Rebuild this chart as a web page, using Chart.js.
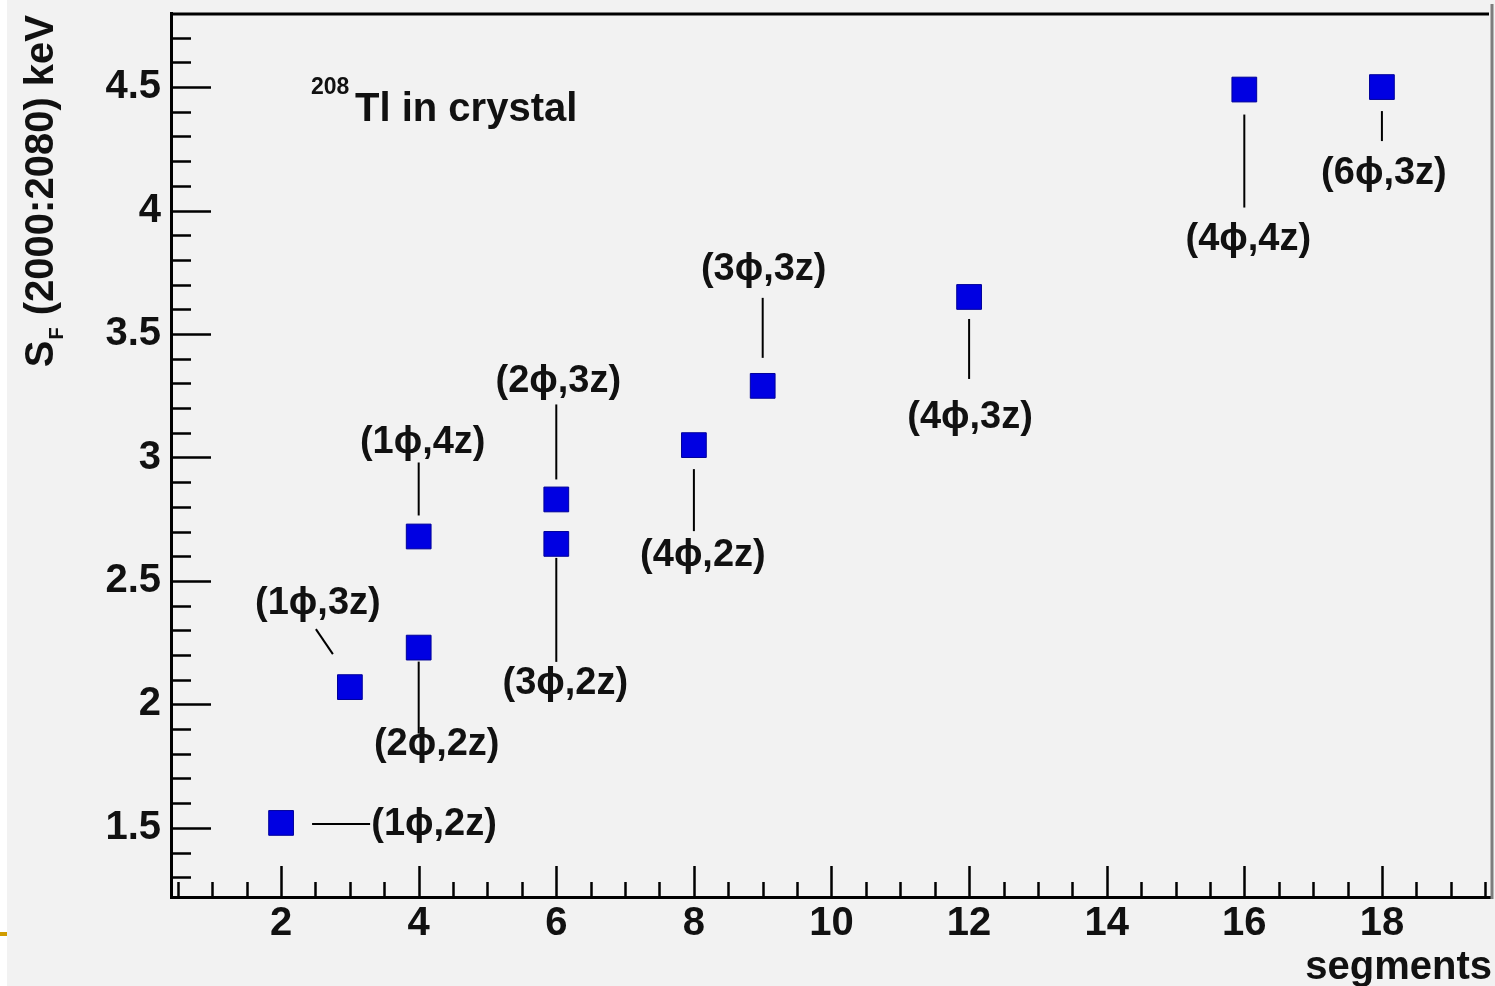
<!DOCTYPE html>
<html>
<head>
<meta charset="utf-8">
<title>Tl-208 in crystal: S_F vs segments</title>
<script src="https://cdn.jsdelivr.net/npm/chart.js@4/dist/chart.umd.min.js"></script>
<style>
  html, body { margin: 0; padding: 0; background: #f2f2f2; }
  #wrap { position: relative; width: 1495px; height: 986px; }
  canvas { display: block; }
</style>
</head>
<body>
<div id="wrap"><canvas id="chart" width="1495" height="986"></canvas></div>
<script>
// Segmentation schemes: number of segments and the resulting S_F value
const segments = [2, 3, 4, 4, 6, 6, 8, 9, 12, 16, 18];
const sfValues = [1.52, 2.07, 2.23, 2.68, 2.65, 2.83, 3.05, 3.29, 3.65, 4.49, 4.50];
const schemeLabels = ['(1ϕ,2z)', '(1ϕ,3z)', '(2ϕ,2z)', '(1ϕ,4z)', '(3ϕ,2z)', '(2ϕ,3z)',
                      '(4ϕ,2z)', '(3ϕ,3z)', '(4ϕ,3z)', '(4ϕ,4z)', '(6ϕ,3z)'];

// Axis ticks
const xTickValues = [2, 4, 6, 8, 10, 12, 14, 16, 18];
const xTickLabels = ['2', '4', '6', '8', '10', '12', '14', '16', '18'];
const yTickValues = [1.5, 2, 2.5, 3, 3.5, 4, 4.5];
const yTickLabels = ['1.5', '2', '2.5', '3', '3.5', '4', '4.5'];

// Axis ranges
const xRange = [0.4, 19.6];
const yRange = [1.22, 4.8];

// Text
const plotTitleSup = '208';
const plotTitleMain = 'Tl in crystal';
const yTitleMain = 'S';
const yTitleSub = 'F';
const yTitleRest = ' (2000:2080) keV';
const xTitle = 'segments';

// Pixel offsets (relative to each marker) for connector line and label centre:
// [lineX1, lineY1, lineX2, lineY2, textX, textY]
const labelLayout = [
  [31, 1, 89, 1, 153, 2],
  [-17, -33, -34, -58, -32, -84],
  [0, 14, 0, 86, 18, 97],
  [0, -21, 0, -74, 4, -94],
  [0, 14, 0, 118, 9, 140],
  [0, -20, 0, -95, 2, -118],
  [0, 24, 0, 86, 9, 110],
  [0, -28, 0, -88, 1, -116],
  [0, 22, 0, 82, 1, 121],
  [0, 25, 0, 118, 4, 150],
  [0, 24, 0, 54, 2, 86]
];

const FONT = '"Liberation Sans", Arial, Helvetica, sans-serif';
const points = segments.map((x, i) => ({ x: x, y: sfValues[i] }));

const frameDecor = {
  id: 'frameDecor',
  beforeDraw(chart) {
    const ctx = chart.ctx;
    ctx.save();
    ctx.fillStyle = '#f2f2f2';
    ctx.fillRect(0, 0, chart.width, chart.height);
    ctx.fillStyle = '#ffffff';
    ctx.fillRect(0, 0, 7, chart.height);
    ctx.fillStyle = '#d09c00';
    ctx.fillRect(0, 932, 7, 4);
    ctx.restore();
  },
  afterDatasetsDraw(chart) {
    const ctx = chart.ctx;
    const a = chart.chartArea;
    const xs = chart.scales.x, ys = chart.scales.y;
    ctx.save();
    // frame: top line and right edge
    ctx.strokeStyle = '#000';
    ctx.lineWidth = 3;
    ctx.beginPath();
    ctx.moveTo(a.left, a.top + 1);
    ctx.lineTo(a.right - 3, a.top + 1);
    ctx.stroke();
    ctx.strokeStyle = '#7d7d7d';
    ctx.lineWidth = 3;
    ctx.beginPath();
    ctx.moveTo(a.right, 4);
    ctx.lineTo(a.right, a.bottom + 2);
    ctx.stroke();

    // inside ticks
    ctx.strokeStyle = '#000';
    ctx.lineWidth = 2.5;
    ctx.beginPath();
    for (let v = 0.5; v <= xRange[1]; v += 0.5) {
      const px = Math.round(xs.getPixelForValue(v)) + 0.5;
      const major = xTickValues.includes(v);
      ctx.moveTo(px, a.bottom);
      ctx.lineTo(px, a.bottom - (major ? 31 : 15));
    }
    for (let k = 13; k <= 47; k++) {
      const v = k / 10;
      const py = Math.round(ys.getPixelForValue(v)) + 0.5;
      const major = yTickValues.some(t => Math.abs(t - v) < 1e-9);
      ctx.moveTo(a.left, py);
      ctx.lineTo(a.left + (major ? 40 : 20), py);
    }
    ctx.stroke();
    ctx.restore();
  },
  afterDraw(chart) {
    const ctx = chart.ctx;
    const xs = chart.scales.x, ys = chart.scales.y;
    ctx.save();
    // scheme labels with connector lines
    ctx.strokeStyle = '#000';
    ctx.lineWidth = 2;
    ctx.fillStyle = '#111';
    ctx.font = 'bold 38px ' + FONT;
    ctx.textAlign = 'center';
    ctx.textBaseline = 'middle';
    points.forEach((p, i) => {
      const px = xs.getPixelForValue(p.x);
      const py = ys.getPixelForValue(p.y);
      const L = labelLayout[i];
      ctx.beginPath();
      ctx.moveTo(px + L[0], py + L[1]);
      ctx.lineTo(px + L[2], py + L[3]);
      ctx.stroke();
      ctx.fillText(schemeLabels[i], px + L[4], py + L[5]);
    });

    // plot title with superscript mass number
    ctx.textAlign = 'left';
    ctx.textBaseline = 'alphabetic';
    ctx.font = 'bold 23px ' + FONT;
    ctx.fillText(plotTitleSup, 311, 94);
    ctx.font = 'bold 40px ' + FONT;
    ctx.fillText(plotTitleMain, 355, 121);

    // rotated y-axis title with subscript
    ctx.translate(53, 0);
    ctx.rotate(-Math.PI / 2);
    ctx.font = 'bold 40px ' + FONT;
    const wS = ctx.measureText(yTitleMain).width;
    const wR = ctx.measureText(yTitleRest).width;
    ctx.font = 'bold 20px ' + FONT;
    const wF = ctx.measureText(yTitleSub).width;
    const total = wS + wF + 2 + wR;
    let x0 = -(15 + total);
    ctx.font = 'bold 40px ' + FONT;
    ctx.fillText(yTitleMain, x0, 0);
    ctx.font = 'bold 20px ' + FONT;
    ctx.fillText(yTitleSub, x0 + wS + 1, 10);
    ctx.font = 'bold 40px ' + FONT;
    ctx.fillText(yTitleRest, x0 + wS + wF + 2, 0);
    ctx.restore();
  }
};

new Chart(document.getElementById('chart'), {
  type: 'scatter',
  data: {
    datasets: [{
      label: 'S_F',
      data: points,
      pointStyle: 'rect',
      pointRadius: 17.5,
      pointHoverRadius: 17.5,
      backgroundColor: '#0000e2',
      borderColor: '#00009a',
      borderWidth: 1
    }]
  },
  options: {
    responsive: false,
    animation: false,
    events: [],
    layout: { autoPadding: false, padding: { left: 0, top: 13, right: 3, bottom: 0 } },
    plugins: {
      legend: { display: false },
      tooltip: { enabled: false },
      title: { display: false }
    },
    scales: {
      x: {
        type: 'linear',
        min: xRange[0],
        max: xRange[1],
        grid: { display: true, drawOnChartArea: false, drawTicks: false },
        border: { display: true, color: '#000', width: 3 },
        afterBuildTicks(s) { s.ticks = xTickValues.map(v => ({ value: v })); },
        ticks: {
          autoSkip: false,
          maxRotation: 0,
          padding: 3,
          color: '#111',
          font: { family: FONT, size: 40, weight: 'bold', lineHeight: 1.2 },
          callback(v) { const i = xTickValues.indexOf(v); return i >= 0 ? xTickLabels[i] : ''; }
        },
        title: {
          display: true,
          text: xTitle,
          align: 'end',
          color: '#111',
          padding: { top: 0, bottom: 0 },
          font: { family: FONT, size: 40, weight: 'bold', lineHeight: 0.9 }
        },
        afterFit(s) {
          s.height = 89;
          s.paddingLeft = 0; s.paddingRight = 0;
        }
      },
      y: {
        type: 'linear',
        min: yRange[0],
        max: yRange[1],
        grid: { display: true, drawOnChartArea: false, drawTicks: false },
        border: { display: true, color: '#000', width: 3 },
        afterBuildTicks(s) { s.ticks = yTickValues.map(v => ({ value: v })); },
        ticks: {
          autoSkip: false,
          padding: 10,
          color: '#111',
          font: { family: FONT, size: 40, weight: 'bold', lineHeight: 1.2 },
          callback(v) { const i = yTickValues.indexOf(v); return i >= 0 ? yTickLabels[i] : ''; }
        },
        afterFit(s) {
          s.width = 171;
          s.paddingTop = 0; s.paddingBottom = 0;
        }
      }
    }
  },
  plugins: [frameDecor]
});
</script>
</body>
</html>
